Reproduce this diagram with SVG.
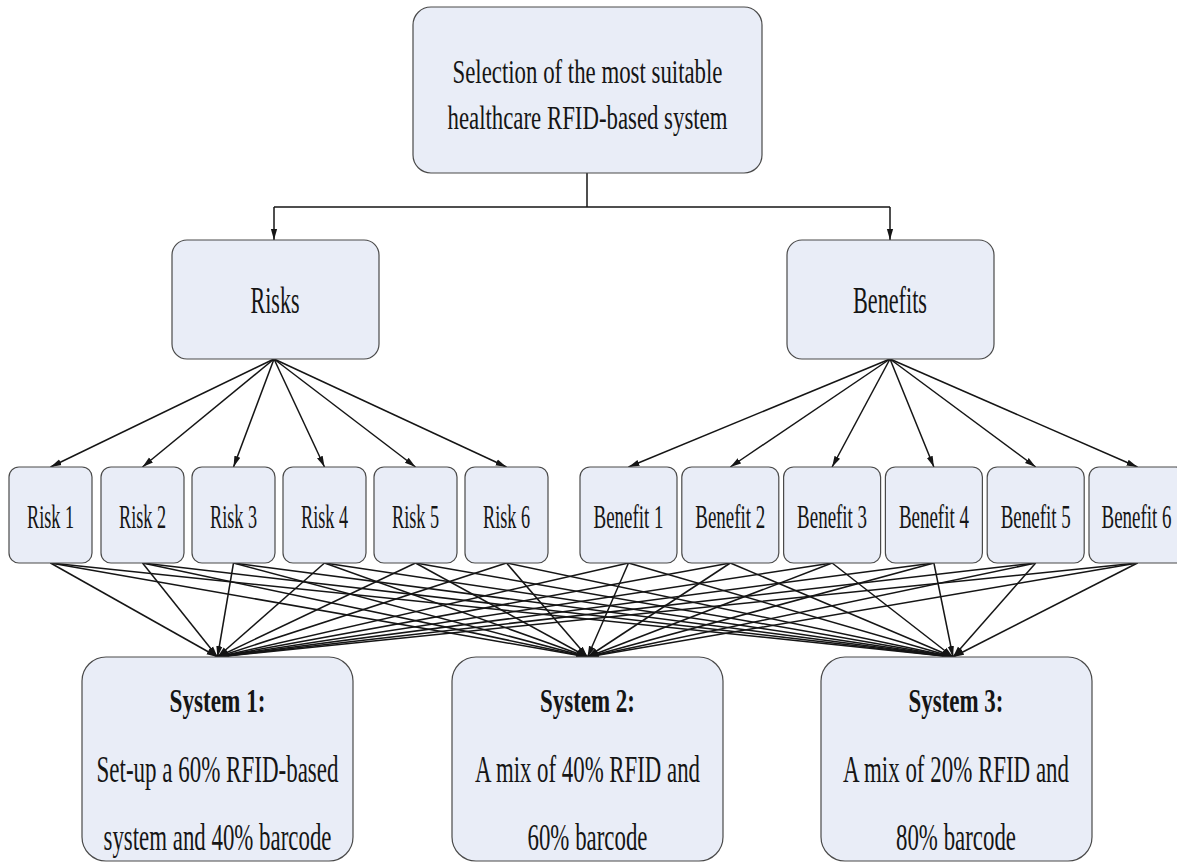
<svg xmlns="http://www.w3.org/2000/svg" width="1177" height="863" viewBox="0 0 1177 863">
<style>
.box{fill:#E9EDF7;stroke:#4a4a4a;stroke-width:1.2}
.t{font-family:"Liberation Serif","Times New Roman",serif;fill:#151515;text-anchor:middle}
.b{font-weight:bold}
.c{stroke:#151515;stroke-width:1.5;fill:none}
.a{marker-end:url(#ah)}
</style>
<defs>
<marker id="ah" markerUnits="userSpaceOnUse" markerWidth="11" markerHeight="8" refX="11" refY="4" orient="auto">
<path d="M0,0.9 L11,4 L0,7.1 z" fill="#151515"/>
</marker>
</defs>
<rect width="1177" height="863" fill="#ffffff"/>

<g id="connectors">
<path class="c" d="M587,173 V207"/>
<path class="c" d="M274,207 H890"/>
<path class="c a" d="M274,207 V240"/>
<path class="c a" d="M890,207 V240"/>
<path class="c a" d="M274,359 L50.5,467"/>
<path class="c a" d="M274,359 L142.5,467"/>
<path class="c a" d="M274,359 L233.5,467"/>
<path class="c a" d="M274,359 L324.5,467"/>
<path class="c a" d="M274,359 L415.5,467"/>
<path class="c a" d="M274,359 L506.5,467"/>
<path class="c a" d="M890,359 L628.5,467"/>
<path class="c a" d="M890,359 L730.3,467"/>
<path class="c a" d="M890,359 L832.1,467"/>
<path class="c a" d="M890,359 L933.9,467"/>
<path class="c a" d="M890,359 L1035.7,467"/>
<path class="c a" d="M890,359 L1137.5,467"/>
<path class="c a" d="M50.5,563 L217.5,657"/>
<path class="c a" d="M142.5,563 L217.5,657"/>
<path class="c a" d="M233.5,563 L217.5,657"/>
<path class="c a" d="M324.5,563 L217.5,657"/>
<path class="c a" d="M415.5,563 L217.5,657"/>
<path class="c a" d="M506.5,563 L217.5,657"/>
<path class="c a" d="M628.5,563 L217.5,657"/>
<path class="c a" d="M730.3,563 L217.5,657"/>
<path class="c a" d="M832.1,563 L217.5,657"/>
<path class="c a" d="M933.9,563 L217.5,657"/>
<path class="c a" d="M1035.7,563 L217.5,657"/>
<path class="c a" d="M1137.5,563 L217.5,657"/>
<path class="c a" d="M50.5,563 L587.5,657"/>
<path class="c a" d="M142.5,563 L587.5,657"/>
<path class="c a" d="M233.5,563 L587.5,657"/>
<path class="c a" d="M324.5,563 L587.5,657"/>
<path class="c a" d="M415.5,563 L587.5,657"/>
<path class="c a" d="M506.5,563 L587.5,657"/>
<path class="c a" d="M628.5,563 L587.5,657"/>
<path class="c a" d="M730.3,563 L587.5,657"/>
<path class="c a" d="M832.1,563 L587.5,657"/>
<path class="c a" d="M933.9,563 L587.5,657"/>
<path class="c a" d="M1035.7,563 L587.5,657"/>
<path class="c a" d="M1137.5,563 L587.5,657"/>
<path class="c a" d="M50.5,563 L953,657"/>
<path class="c a" d="M142.5,563 L953,657"/>
<path class="c a" d="M233.5,563 L953,657"/>
<path class="c a" d="M324.5,563 L953,657"/>
<path class="c a" d="M415.5,563 L953,657"/>
<path class="c a" d="M506.5,563 L953,657"/>
<path class="c a" d="M628.5,563 L953,657"/>
<path class="c a" d="M730.3,563 L953,657"/>
<path class="c a" d="M832.1,563 L953,657"/>
<path class="c a" d="M933.9,563 L953,657"/>
<path class="c a" d="M1035.7,563 L953,657"/>
<path class="c a" d="M1137.5,563 L953,657"/>
</g>

<g id="node-goal">
<rect class="box" x="413" y="7" width="349" height="166" rx="18"/>
<text class="t" x="587.5" y="83" font-size="34" textLength="270" lengthAdjust="spacingAndGlyphs">Selection of the most suitable</text>
<text class="t" x="587.5" y="129" font-size="34" textLength="280" lengthAdjust="spacingAndGlyphs">healthcare RFID-based system</text>
</g>

<g id="node-risks">
<rect class="box" x="172" y="240" width="207" height="119" rx="15"/>
<text class="t" x="275" y="313" font-size="38" textLength="49" lengthAdjust="spacingAndGlyphs">Risks</text>
</g>
<g id="node-benefits">
<rect class="box" x="787" y="240" width="207" height="119" rx="15"/>
<text class="t" x="890" y="313" font-size="38" textLength="74" lengthAdjust="spacingAndGlyphs">Benefits</text>
</g>

<g id="node-risk1"><rect class="box" x="9" y="467" width="83" height="96" rx="10"/><text class="t" x="50.5" y="528" font-size="34" textLength="47" lengthAdjust="spacingAndGlyphs">Risk 1</text></g>
<g id="node-risk2"><rect class="box" x="101" y="467" width="83" height="96" rx="10"/><text class="t" x="142.5" y="528" font-size="34" textLength="47" lengthAdjust="spacingAndGlyphs">Risk 2</text></g>
<g id="node-risk3"><rect class="box" x="192" y="467" width="83" height="96" rx="10"/><text class="t" x="233.5" y="528" font-size="34" textLength="47" lengthAdjust="spacingAndGlyphs">Risk 3</text></g>
<g id="node-risk4"><rect class="box" x="283" y="467" width="83" height="96" rx="10"/><text class="t" x="324.5" y="528" font-size="34" textLength="47" lengthAdjust="spacingAndGlyphs">Risk 4</text></g>
<g id="node-risk5"><rect class="box" x="374" y="467" width="83" height="96" rx="10"/><text class="t" x="415.5" y="528" font-size="34" textLength="47" lengthAdjust="spacingAndGlyphs">Risk 5</text></g>
<g id="node-risk6"><rect class="box" x="465" y="467" width="83" height="96" rx="10"/><text class="t" x="506.5" y="528" font-size="34" textLength="47" lengthAdjust="spacingAndGlyphs">Risk 6</text></g>

<g id="node-benefit1"><rect class="box" x="580" y="467" width="97" height="96" rx="10"/><text class="t" x="628.5" y="528" font-size="34" textLength="70" lengthAdjust="spacingAndGlyphs">Benefit 1</text></g>
<g id="node-benefit2"><rect class="box" x="681.8" y="467" width="97" height="96" rx="10"/><text class="t" x="730.3" y="528" font-size="34" textLength="70" lengthAdjust="spacingAndGlyphs">Benefit 2</text></g>
<g id="node-benefit3"><rect class="box" x="783.6" y="467" width="97" height="96" rx="10"/><text class="t" x="832.1" y="528" font-size="34" textLength="70" lengthAdjust="spacingAndGlyphs">Benefit 3</text></g>
<g id="node-benefit4"><rect class="box" x="885.4" y="467" width="97" height="96" rx="10"/><text class="t" x="933.9" y="528" font-size="34" textLength="70" lengthAdjust="spacingAndGlyphs">Benefit 4</text></g>
<g id="node-benefit5"><rect class="box" x="987.2" y="467" width="97" height="96" rx="10"/><text class="t" x="1035.7" y="528" font-size="34" textLength="70" lengthAdjust="spacingAndGlyphs">Benefit 5</text></g>
<g id="node-benefit6"><rect class="box" x="1089" y="467" width="97" height="96" rx="10"/><text class="t" x="1136.5" y="528" font-size="34" textLength="70" lengthAdjust="spacingAndGlyphs">Benefit 6</text></g>

<g id="node-system1">
<rect class="box" x="82" y="657" width="271" height="204" rx="24"/>
<text class="t b" x="217.5" y="712" font-size="34" textLength="96" lengthAdjust="spacingAndGlyphs">System 1:</text>
<text class="t" x="217.5" y="782" font-size="38" textLength="242" lengthAdjust="spacingAndGlyphs">Set-up a 60% RFID-based</text>
<text class="t" x="217.5" y="850" font-size="38" textLength="228" lengthAdjust="spacingAndGlyphs">system and 40% barcode</text>
</g>
<g id="node-system2">
<rect class="box" x="452" y="657" width="271" height="204" rx="24"/>
<text class="t b" x="587.5" y="712" font-size="34" textLength="95" lengthAdjust="spacingAndGlyphs">System 2:</text>
<text class="t" x="587.5" y="782" font-size="38" textLength="225" lengthAdjust="spacingAndGlyphs">A mix of 40% RFID and</text>
<text class="t" x="587.5" y="850" font-size="38" textLength="120" lengthAdjust="spacingAndGlyphs">60% barcode</text>
</g>
<g id="node-system3">
<rect class="box" x="821" y="657" width="271" height="204" rx="24"/>
<text class="t b" x="956" y="712" font-size="34" textLength="95" lengthAdjust="spacingAndGlyphs">System 3:</text>
<text class="t" x="956" y="782" font-size="38" textLength="226" lengthAdjust="spacingAndGlyphs">A mix of 20% RFID and</text>
<text class="t" x="956" y="850" font-size="38" textLength="120" lengthAdjust="spacingAndGlyphs">80% barcode</text>
</g>
</svg>
